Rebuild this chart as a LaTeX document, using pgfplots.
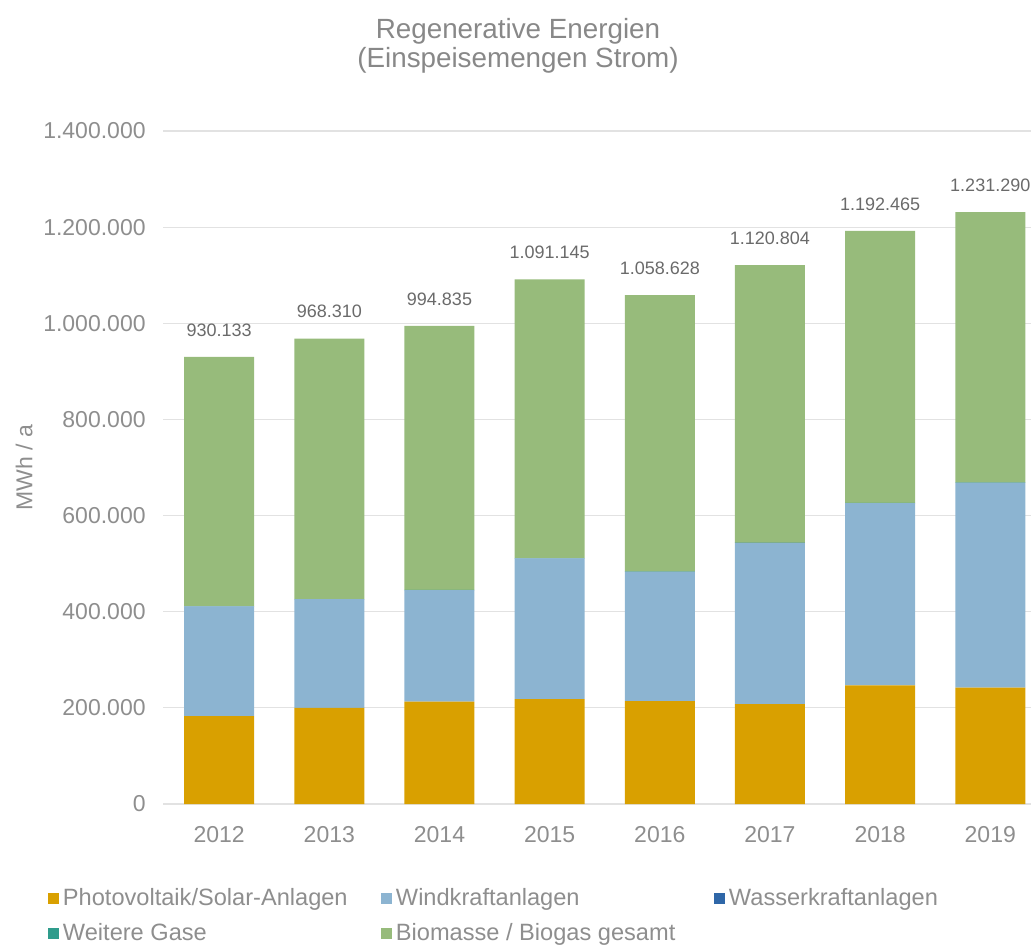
\documentclass[border=0pt]{standalone}
\usepackage{fontspec}
\setmainfont{Liberation Sans}
\usepackage{pgfplots}
\usepackage{pgfplotstable}
\pgfplotsset{compat=1.18}
\definecolor{pv}{HTML}{D9A000}
\definecolor{wind}{HTML}{8CB4D1}
\definecolor{hydro}{HTML}{2F67A8}
\definecolor{gas}{HTML}{2F9C8C}
\definecolor{bio}{HTML}{97BB7B}
\definecolor{txt}{HTML}{8E8E8E}
\definecolor{titlecol}{HTML}{888888}
\definecolor{datcol}{HTML}{6A6A6A}
\definecolor{gridcol}{HTML}{E2E2E2}

\pgfplotstableread{
x pv wind hydro gas bio total label
0 183000 228000 100 300 518733 930133 930.133
1 200000 226000 100 300 541910 968310 968.310
2 213000 232000 100 300 549435 994835 994.835
3 218000 293000 100 300 579745 1091145 1.091.145
4 214000 269000 100 300 575228 1058628 1.058.628
5 208000 335000 100 300 577404 1120804 1.120.804
6 247000 379000 100 300 566065 1192465 1.192.465
7 242000 426000 100 300 562890 1231290 1.231.290
}\data

\pgfplotsset{
  sqlegend/.style={legend image code/.code={\fill[#1] (0pt,-2.75pt) rectangle (5.5pt,2.75pt);}},
  frame/.style={at={(0pt,0pt)}, anchor=south west,
    scale only axis, width=434pt, height=336.5pt,
    xmin=-0.51, xmax=7.37, ymin=0, ymax=1400000}
}

\begin{document}
\begin{tikzpicture}
\useasboundingbox (-81.5pt,-70pt) rectangle (434pt,402pt);
\begin{axis}[
  frame,
  ybar stacked, bar width=35pt,
  xtick={0,1,2,3,4,5,6,7},
  xticklabels={2012,2013,2014,2015,2016,2017,2018,2019},
  ytick={0,200000,400000,600000,800000,1000000,1200000,1400000},
  scaled y ticks=false,
  yticklabel style={/pgf/number format/fixed, /pgf/number format/precision=0,
     /pgf/number format/1000 sep={.}, /pgf/number format/assume math mode=true,
     inner sep=0pt, xshift=-8.5pt},
  xticklabel style={inner sep=0pt, yshift=-11pt},
  tick label style={font=\fontsize{11.5}{13}\selectfont, text=txt},
  ymajorgrids, grid style={gridcol, line width=0.6pt},
  axis line style={draw=none},
  major tick length=0pt,
  ylabel={MWh / a},
  ylabel style={at={(axis description cs:-0.160,0.5)}, anchor=center,
     font=\fontsize{11.5}{13}\selectfont, text=txt, inner sep=0pt},
  every axis title shift=0pt,
  title={Regenerative Energien\\(Einspeisemengen Strom)},
  title style={at={(axis description cs:0.409,1.127)}, anchor=center, align=center,
     font=\fontsize{13.9}{14.5}\selectfont, text=titlecol, inner sep=0pt},
  sqlegend,
  legend columns=3,
  legend cell align=left,
  legend style={draw=none, fill=none, inner xsep=0pt, inner ysep=0pt, outer sep=0pt,
     at={(axis description cs:-0.1325,-0.1251)}, anchor=north west,
     font=\fontsize{11.8}{13}\selectfont, text=txt,
     nodes={inner sep=0pt},
     column sep=0pt, row sep=7.4pt,
     /tikz/every odd column/.append style={column sep=2pt}},
]
\addplot[fill=pv, draw=none] table[x=x, y=pv] {\data};
\addlegendentry{\makebox[159pt][l]{Photovoltaik/Solar-Anlagen}}
\addplot[fill=wind, draw=none] table[x=x, y=wind] {\data};
\addlegendentry{\makebox[159pt][l]{Windkraftanlagen}}
\addplot[fill=hydro, draw=none] table[x=x, y=hydro] {\data};
\addlegendentry{\makebox[159pt][l]{Wasserkraftanlagen}}
\addplot[fill=gas, draw=none] table[x=x, y=gas] {\data};
\addlegendentry{\makebox[159pt][l]{Weitere Gase}}
\addplot[fill=bio, draw=none] table[x=x, y=bio] {\data};
\addlegendentry{\makebox[159pt][l]{Biomasse / Biogas gesamt}}
\end{axis}
\begin{axis}[frame, hide axis]
\addplot[only marks, mark=none, nodes near coords, point meta=explicit symbolic,
  nodes near coords style={font=\fontsize{9}{10}\selectfont, text=datcol,
     anchor=south, inner sep=0pt, yshift=10pt}]
  table[x=x, y=total, meta=label] {\data};
\end{axis}
\end{tikzpicture}
\end{document}
